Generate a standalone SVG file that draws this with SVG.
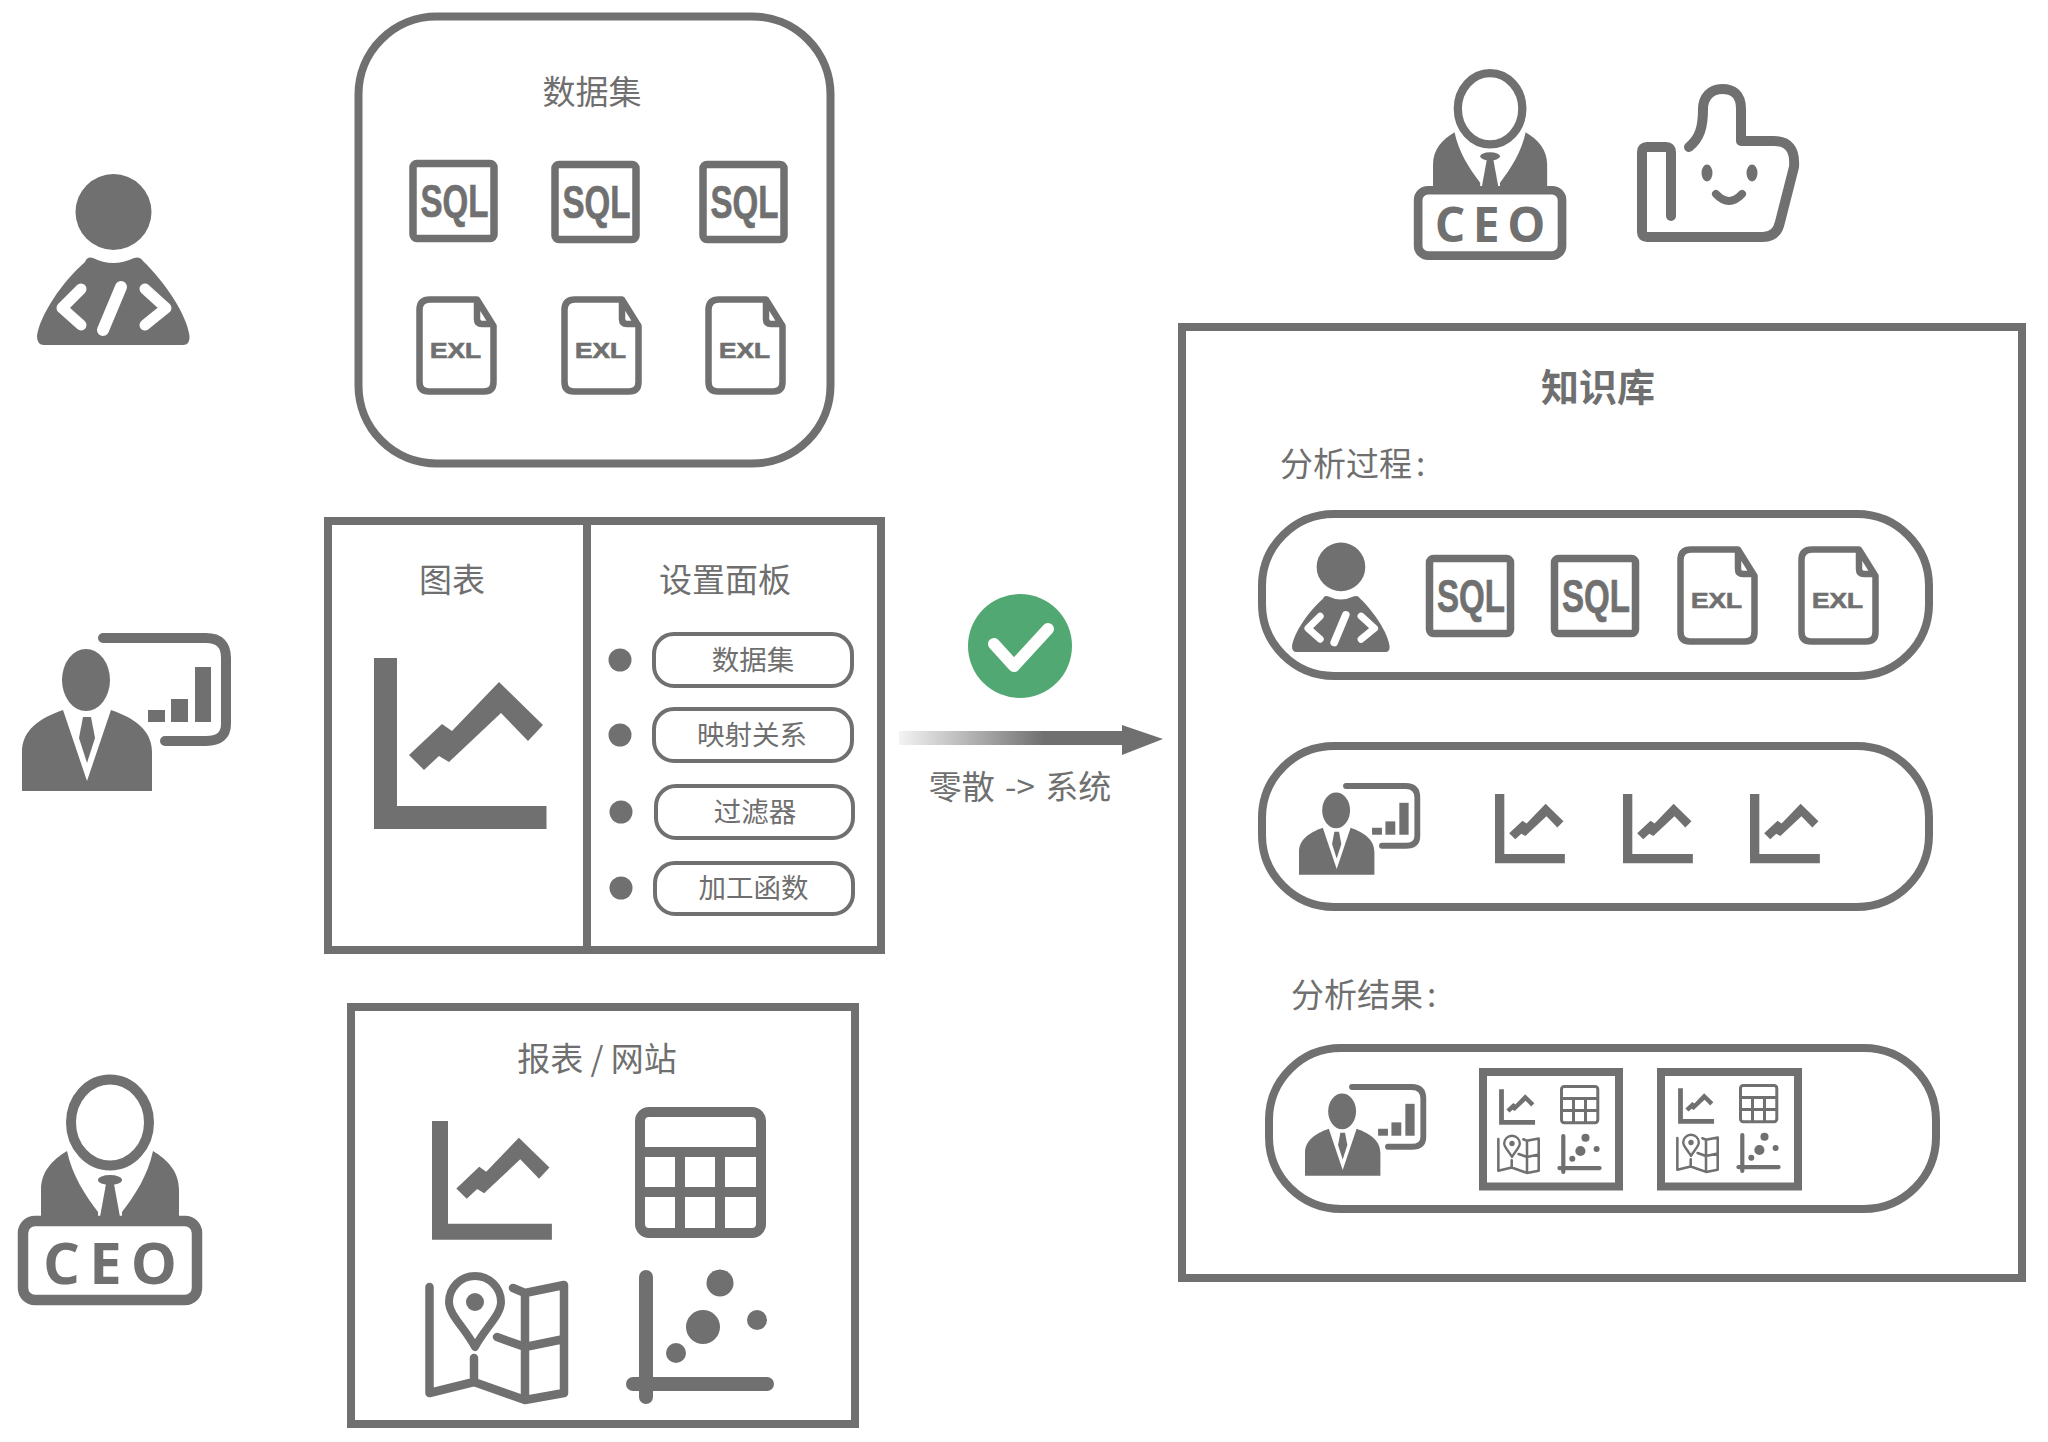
<svg xmlns="http://www.w3.org/2000/svg" width="2048" height="1442" viewBox="0 0 2048 1442">
<style>
.t{font-family:"Noto Sans CJK SC","Noto Sans",sans-serif;fill:#6f6f6f;text-anchor:middle;font-size:33px}
.s{font-size:27.5px}
.b{font-size:38px;font-weight:700}
.l{text-anchor:start}
.ic{font-family:"Liberation Sans",Arial,sans-serif;font-weight:700;fill:#707070;stroke:#707070;stroke-width:.7}
.ce{font-family:"Open Sans","Liberation Sans",sans-serif;font-weight:700;fill:#707070;font-size:58px}
.f{fill:#707070;stroke:none}
.o{fill:none;stroke:#707070;stroke-linejoin:round}
.box{fill:#fff;stroke:#707070;stroke-width:8}
.pb{fill:#fff;stroke:#707070;stroke-width:4}
.pk{fill:#fff;stroke:#707070;stroke-width:8}
</style>
<defs>
<linearGradient id="ag" x1="899" x2="1122" y1="0" y2="0" gradientUnits="userSpaceOnUse"><stop offset="0" stop-color="#707070" stop-opacity=".08"/><stop offset=".65" stop-color="#707070"/></linearGradient>
<g id="coder">
<circle class="f" cx="76.5" cy="42" r="38"/>
<path class="f" d="M48,92Q50,86 56,88Q76,98 97,88Q103,86 106,91C128,112 150,145 152.5,166Q153,175 146,175L7,175Q0,175 0,166C3,145 25,112 48,92Z"/>
<path d="M44,119L25,138L44,155M108,119L129,138L108,155" fill="none" stroke="#fff" stroke-width="11" stroke-linecap="round" stroke-linejoin="round"/>
<path d="M84,117L66,160" fill="none" stroke="#fff" stroke-width="12" stroke-linecap="round"/>
</g>
<g id="presenter">
<path class="o" d="M81,0H184Q204,0 204,20V86Q204,103 184,103H143" stroke-width="10" stroke-linecap="round"/>
<rect class="f" x="126" y="72" width="17" height="12"/><rect class="f" x="149" y="61" width="17" height="23"/><rect class="f" x="173" y="29" width="16" height="55"/>
<ellipse class="f" cx="64" cy="42" rx="24" ry="31"/>
<path class="f" d="M0,153V114C0,92 18,80 41,72L65,143L89,72C112,80 130,92 130,114V153Z"/>
<path class="f" d="M61,79H69L73,100L65,125L57,100Z"/>
</g>
<g id="chart">
<path class="f" d="M0,0H23V148H172.5V171H0Z"/>
<path class="f" d="M35,97L68,66L78,73L125,24L169,67L154,83L127,55L75,104L65,98L50,112Z"/>
</g>
<g id="table" class="o" stroke-width="10">
<rect x="5" y="5" width="121" height="121" rx="9"/>
<path d="M5,45H126M5,85H126M45,45V126M85,45V126"/>
</g>
<g id="map">
<path class="o" stroke-width="8.5" stroke-linecap="round" d="M4.5,14V120L49,109L100,127L139,120V12L100,20L88,15M100,20V127M72,64L100,74L139,66M49,85V109"/>
<path d="M50,74C40,55 24,42 24,29A26,26 0 0 1 76,29C76,42 60,55 50,74Z" fill="#fff" stroke="#707070" stroke-width="8" stroke-linejoin="round"/>
<circle class="f" cx="50" cy="29" r="9"/>
</g>
<g id="scatter">
<path class="o" stroke-width="14" stroke-linecap="round" d="M20,7V127M7,114H141"/>
<circle class="f" cx="94" cy="13" r="13.5"/><circle class="f" cx="77" cy="57" r="17"/><circle class="f" cx="131" cy="50" r="10"/><circle class="f" cx="50" cy="83" r="10"/>
</g>
<g id="dash">
<use href="#chart" transform="translate(7,14) scale(.695)"/>
<use href="#table" transform="translate(210,0)"/>
<use href="#map" transform="translate(0,166)"/>
<use href="#scatter" transform="translate(201,163)"/>
</g>
<g id="sqlf"><rect class="o" x="3.5" y="3.5" width="81" height="75" rx="4" stroke-width="7.5"/></g>
<g id="exlf"><path class="o" stroke-width="6.5" d="M14,3.5H61L77.5,30V86Q77.5,95.5 68,95.5H13Q3.5,95.5 3.5,86V14Q3.5,3.5 14,3.5ZM61,3.5V23Q61,28 66,28H77"/></g>
<g id="ceof">
<ellipse class="o" cx="92" cy="47.5" rx="39" ry="43" stroke-width="10"/>
<path class="f" d="M23,142V115C23,97 34,85 49,76C54,100 67,120 80,137V142ZM161,142V115C161,97 150,85 135,76C130,100 117,120 104,137V142Z"/>
<ellipse class="f" cx="92" cy="105" rx="12" ry="5"/>
<path class="f" d="M88,109H96L102,142H82Z"/>
<rect x="5" y="146" width="174" height="79" rx="12" fill="#fff" stroke="#707070" stroke-width="10.5"/>
</g>
</defs>

<g id="connectors">
<path d="M899,731H1122V725L1163,739L1122,755V745H899Z" fill="url(#ag)"/>
</g>

<g id="developer"><use href="#coder" transform="translate(37,170)"/></g>

<g id="dataset">
<rect class="box" x="358.5" y="16.5" width="472" height="447" rx="78" stroke-width="9"/>
<text class="t" x="592" y="104">数据集</text>
<g id="sql1" transform="translate(409.5,160)"><use href="#sqlf"/><text class="ic" x="11" y="57" font-size="46" textLength="68" lengthAdjust="spacingAndGlyphs">SQL</text></g>
<g id="sql2" transform="translate(551.5,161)"><use href="#sqlf"/><text class="ic" x="11" y="57" font-size="46" textLength="68" lengthAdjust="spacingAndGlyphs">SQL</text></g>
<g id="sql3" transform="translate(699.5,161)"><use href="#sqlf"/><text class="ic" x="11" y="57" font-size="46" textLength="68" lengthAdjust="spacingAndGlyphs">SQL</text></g>
<g id="exl1" transform="translate(416,296)"><use href="#exlf"/><text class="ic" x="14" y="62" font-size="22" textLength="51" lengthAdjust="spacingAndGlyphs">EXL</text></g>
<g id="exl2" transform="translate(561,296)"><use href="#exlf"/><text class="ic" x="14" y="62" font-size="22" textLength="51" lengthAdjust="spacingAndGlyphs">EXL</text></g>
<g id="exl3" transform="translate(705,296)"><use href="#exlf"/><text class="ic" x="14" y="62" font-size="22" textLength="51" lengthAdjust="spacingAndGlyphs">EXL</text></g>
</g>

<g id="analyst"><use href="#presenter" transform="translate(22,638)"/></g>

<g id="panel">
<rect class="box" x="328" y="521" width="553" height="429"/>
<path class="o" stroke-width="8" d="M587,521V950"/>
<text class="t" x="452" y="592">图表</text>
<text class="t" x="725" y="592">设置面板</text>
<use href="#chart" transform="translate(374,658)"/>
<circle class="f" cx="620" cy="660" r="11.5"/><rect class="pb" x="654" y="634" width="198" height="52" rx="20"/><text class="t s" x="753" y="670">数据集</text>
<circle class="f" cx="620" cy="735" r="11.5"/><rect class="pb" x="654" y="709" width="198" height="52" rx="20"/><text class="t s" x="752" y="745">映射关系</text>
<circle class="f" cx="621" cy="812" r="11.5"/><rect class="pb" x="656" y="786" width="197" height="52" rx="20"/><text class="t s" x="755" y="822">过滤器</text>
<circle class="f" cx="621" cy="888" r="11.5"/><rect class="pb" x="655" y="863" width="198" height="51" rx="20"/><text class="t s" x="753.5" y="898">加工函数</text>
</g>

<g id="ceo-left"><g transform="translate(18,1075)"><use href="#ceof"/><text class="ce" x="25" y="209" textLength="134" lengthAdjust="spacing">CEO</text></g></g>

<g id="report">
<rect class="box" x="351" y="1007" width="504" height="417"/>
<text class="t" x="597" y="1071">报表 / 网站</text>
<use href="#dash" transform="translate(425,1107)"/>
</g>

<g id="ceo-right"><g transform="translate(1414,69.5) scale(.827)"><use href="#ceof"/><text class="ce" x="25" y="209" textLength="134" lengthAdjust="spacing">CEO</text></g></g>

<g id="thumb">
<path class="o" stroke-width="10" stroke-linecap="round" d="M1671,216V152Q1671,147 1666,147H1647Q1642,147 1642,152V232Q1642,237 1647,237H1763Q1777,237 1780,222L1794,167Q1796,141 1774,141H1741V109C1741,94 1733,89 1722,89C1711,89 1703,97 1703,109C1703,127 1700,138 1689,147"/>
<ellipse class="f" cx="1707" cy="173" rx="5.5" ry="8.5"/><ellipse class="f" cx="1752" cy="173" rx="5.5" ry="8.5"/>
<path class="o" stroke-width="8" stroke-linecap="round" d="M1716,194Q1729,208 1742,194"/>
</g>

<g id="check">
<circle cx="1020" cy="646" r="52" fill="#52a872"/>
<path d="M994,644L1014,666L1048,629" fill="none" stroke="#fff" stroke-width="12" stroke-linecap="round" stroke-linejoin="round"/>
</g>
<text class="t" x="1020" y="799" word-spacing="3">零散 -&gt; 系统</text>

<g id="knowledge">
<rect class="box" x="1182" y="327" width="840" height="951"/>
<text class="t b" x="1598" y="401">知识库</text>
<text class="t l" x="1280" y="476">分析过程<tspan dx="4">:</tspan></text>
<rect class="pk" x="1262" y="514" width="667" height="162" rx="72"/>
<use href="#coder" transform="translate(1292,540) scale(.64)"/>
<g transform="translate(1426,555)"><use href="#sqlf"/><text class="ic" x="11" y="57" font-size="46" textLength="68" lengthAdjust="spacingAndGlyphs">SQL</text></g>
<g transform="translate(1551,555)"><use href="#sqlf"/><text class="ic" x="11" y="57" font-size="46" textLength="68" lengthAdjust="spacingAndGlyphs">SQL</text></g>
<g transform="translate(1677,546)"><use href="#exlf"/><text class="ic" x="14" y="62" font-size="22" textLength="51" lengthAdjust="spacingAndGlyphs">EXL</text></g>
<g transform="translate(1798,546)"><use href="#exlf"/><text class="ic" x="14" y="62" font-size="22" textLength="51" lengthAdjust="spacingAndGlyphs">EXL</text></g>
<rect class="pk" x="1262" y="746" width="667" height="161" rx="72"/>
<use href="#presenter" transform="translate(1299,786) scale(.58)"/>
<use href="#chart" transform="translate(1495,794) scale(.405)"/>
<use href="#chart" transform="translate(1623,794) scale(.405)"/>
<use href="#chart" transform="translate(1750,794) scale(.405)"/>
<text class="t l" x="1291" y="1007">分析结果<tspan dx="4">:</tspan></text>
<rect class="pk" x="1269" y="1048" width="667" height="161" rx="72"/>
<use href="#presenter" transform="translate(1305,1087) scale(.58)"/>
<rect class="box" x="1483" y="1072" width="136" height="114.5"/>
<use href="#dash" transform="translate(1497,1085) scale(.3)"/>
<rect class="box" x="1661" y="1072" width="137" height="114.5"/>
<use href="#dash" transform="translate(1676,1084) scale(.3)"/>
</g>
</svg>
